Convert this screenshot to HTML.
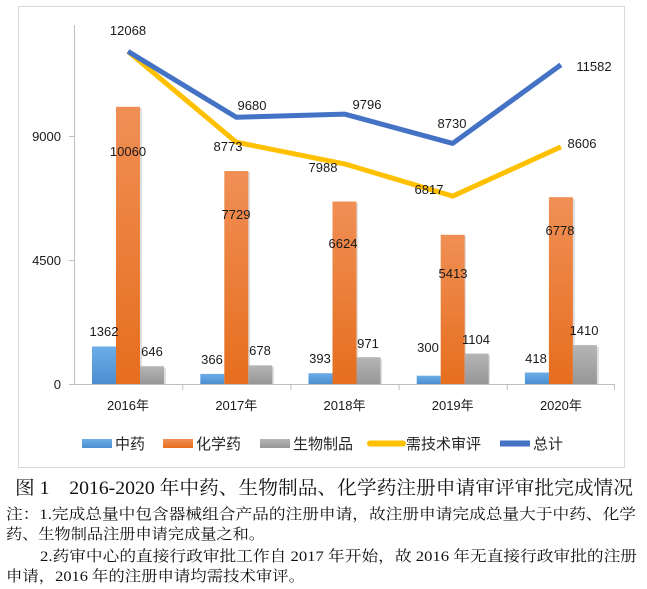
<!DOCTYPE html>
<html><head><meta charset="utf-8"><style>
html,body{margin:0;padding:0;background:#fff;}
svg{display:block;}
.l{font-family:"Liberation Sans","Noto Sans CJK SC",sans-serif;font-size:13px;fill:#1a1a1a;}
.lg{font-family:"Liberation Sans","Noto Sans CJK SC",sans-serif;font-size:15px;fill:#262626;}
.cap{font-family:"Liberation Serif","Noto Serif CJK SC",serif;font-size:19px;fill:#111;}
.nt{font-family:"Liberation Serif","Noto Serif CJK SC",serif;font-size:15px;fill:#111;}
</style></head><body>
<svg width="647" height="589" viewBox="0 0 647 589" xmlns="http://www.w3.org/2000/svg">
<defs>
<linearGradient id="gb" x1="0" y1="0" x2="0" y2="1"><stop offset="0" stop-color="#6DAEE8"/><stop offset="1" stop-color="#4A8ED0"/></linearGradient>
<linearGradient id="go" x1="0" y1="0" x2="0" y2="1"><stop offset="0" stop-color="#F08F55"/><stop offset="1" stop-color="#E66E1E"/></linearGradient>
<linearGradient id="gg" x1="0" y1="0" x2="0" y2="1"><stop offset="0" stop-color="#B5B5B5"/><stop offset="1" stop-color="#979797"/></linearGradient>
</defs>
<rect x="0" y="0" width="647" height="589" fill="#fff"/>
<rect x="18.5" y="6.5" width="606" height="461" fill="#fff" stroke="#D9D9D9" stroke-width="1"/>
<!-- axes -->
<line x1="74.5" y1="25" x2="74.5" y2="384" stroke="#BFBFBF" stroke-width="1"/>
<line x1="69" y1="384.5" x2="615" y2="384.5" stroke="#BFBFBF" stroke-width="1"/>
<line x1="69" y1="136.5" x2="74" y2="136.5" stroke="#BFBFBF"/>
<line x1="69" y1="260.5" x2="74" y2="260.5" stroke="#BFBFBF"/>
<g stroke="#BFBFBF">
<line x1="182.7" y1="384" x2="182.7" y2="390"/>
<line x1="290.9" y1="384" x2="290.9" y2="390"/>
<line x1="399.1" y1="384" x2="399.1" y2="390"/>
<line x1="507.3" y1="384" x2="507.3" y2="390"/>
<line x1="614.5" y1="384" x2="614.5" y2="390"/>
</g>
<text class="l" x="61" y="141" text-anchor="end">9000</text>
<text class="l" x="61" y="265" text-anchor="end">4500</text>
<text class="l" x="61" y="389" text-anchor="end">0</text>
<!-- bars shadows -->
<g fill="#000" opacity="0.12">
<rect x="94" y="348" width="24" height="36"/><rect x="118" y="108" width="24" height="276"/><rect x="142" y="368" width="24" height="16"/>
<rect x="202" y="375" width="24" height="9"/><rect x="226" y="172" width="24" height="212"/><rect x="250" y="367" width="24" height="17"/>
<rect x="310" y="375" width="24" height="9"/><rect x="334" y="203" width="24" height="181"/><rect x="358" y="359" width="24" height="25"/>
<rect x="418" y="377" width="24" height="7"/><rect x="442" y="236" width="24" height="148"/><rect x="466" y="355" width="24" height="29"/>
<rect x="527" y="374" width="24" height="10"/><rect x="551" y="199" width="24" height="185"/><rect x="575" y="347" width="24" height="37"/>
</g>
<!-- bars -->
<rect x="92" y="346.5" width="24" height="37.5" fill="url(#gb)"/>
<rect x="116" y="106.8" width="24" height="277.2" fill="url(#go)"/>
<rect x="140" y="366.2" width="24" height="17.8" fill="url(#gg)"/>
<rect x="200.3" y="373.9" width="24" height="10.1" fill="url(#gb)"/>
<rect x="224.3" y="171" width="24" height="213" fill="url(#go)"/>
<rect x="248.3" y="365.3" width="24" height="18.7" fill="url(#gg)"/>
<rect x="308.5" y="373.2" width="24" height="10.8" fill="url(#gb)"/>
<rect x="332.5" y="201.5" width="24" height="182.5" fill="url(#go)"/>
<rect x="356.5" y="357.2" width="24" height="26.8" fill="url(#gg)"/>
<rect x="416.7" y="375.7" width="24" height="8.3" fill="url(#gb)"/>
<rect x="440.7" y="234.8" width="24" height="149.2" fill="url(#go)"/>
<rect x="464.7" y="353.6" width="24" height="30.4" fill="url(#gg)"/>
<rect x="524.9" y="372.5" width="24" height="11.5" fill="url(#gb)"/>
<rect x="548.9" y="197.2" width="24" height="186.8" fill="url(#go)"/>
<rect x="572.9" y="345.1" width="24" height="38.9" fill="url(#gg)"/>
<!-- lines -->
<polyline points="128,51.4 236.3,142.2 344.5,163.9 452.7,196.1 560.9,146.9" fill="none" stroke="#FFC000" stroke-width="5" stroke-linejoin="round"/>
<polyline points="128,51.4 236.3,117.3 344.5,114.1 452.7,143.4 560.9,64.8" fill="none" stroke="#4472C4" stroke-width="5" stroke-linejoin="round"/>
<!-- data labels -->
<g class="l" text-anchor="middle">
<text x="128" y="35">12068</text>
<text x="252" y="110">9680</text>
<text x="228" y="151">8773</text>
<text x="128" y="156">10060</text>
<text x="236" y="219">7729</text>
<text x="367" y="109">9796</text>
<text x="323" y="172">7988</text>
<text x="343" y="248">6624</text>
<text x="452" y="128">8730</text>
<text x="429" y="194">6817</text>
<text x="453" y="278">5413</text>
<text x="594" y="71">11582</text>
<text x="582" y="148">8606</text>
<text x="560" y="235">6778</text>
<text x="104" y="336">1362</text>
<text x="152" y="356">646</text>
<text x="212" y="364">366</text>
<text x="260" y="355">678</text>
<text x="320" y="363">393</text>
<text x="368" y="348">971</text>
<text x="428" y="352">300</text>
<text x="476" y="344">1104</text>
<text x="536" y="363">418</text>
<text x="584" y="335">1410</text>
</g>
<!-- x labels -->
<g class="l" text-anchor="middle">
<text x="128" y="410">2016年</text>
<text x="236.3" y="410">2017年</text>
<text x="344.5" y="410">2018年</text>
<text x="452.7" y="410">2019年</text>
<text x="560.9" y="410">2020年</text>
</g>
<!-- legend -->
<rect x="82" y="439" width="30" height="9" fill="url(#gb)"/>
<text class="lg" x="115" y="449">中药</text>
<rect x="163" y="439" width="30" height="9" fill="url(#go)"/>
<text class="lg" x="196" y="449">化学药</text>
<rect x="260" y="439" width="30" height="9" fill="url(#gg)"/>
<text class="lg" x="293" y="449">生物制品</text>
<line x1="370" y1="443.5" x2="403" y2="443.5" stroke="#FFC000" stroke-width="6" stroke-linecap="round"/>
<text class="lg" x="406" y="449">需技术审评</text>
<line x1="500" y1="443.5" x2="530" y2="443.5" stroke="#4472C4" stroke-width="6"/>
<text class="lg" x="533" y="449">总计</text>
<!-- caption -->
<text class="cap" x="15" y="494" textLength="618" lengthAdjust="spacingAndGlyphs">图 1　2016-2020 年中药、生物制品、化学药注册申请审评审批完成情况</text>
<text class="nt" x="6" y="519" textLength="630" lengthAdjust="spacingAndGlyphs">注：1.完成总量中包含器械组合产品的注册申请，故注册申请完成总量大于中药、化学</text>
<text class="nt" x="6" y="539" textLength="259" lengthAdjust="spacingAndGlyphs">药、生物制品注册申请完成量之和。</text>
<text class="nt" x="40" y="561" textLength="597" lengthAdjust="spacingAndGlyphs">2.药审中心的直接行政审批工作自 2017 年开始，故 2016 年无直接行政审批的注册</text>
<text class="nt" x="6" y="581" textLength="299" lengthAdjust="spacingAndGlyphs">申请，2016 年的注册申请均需技术审评。</text>
</svg>
</body></html>
